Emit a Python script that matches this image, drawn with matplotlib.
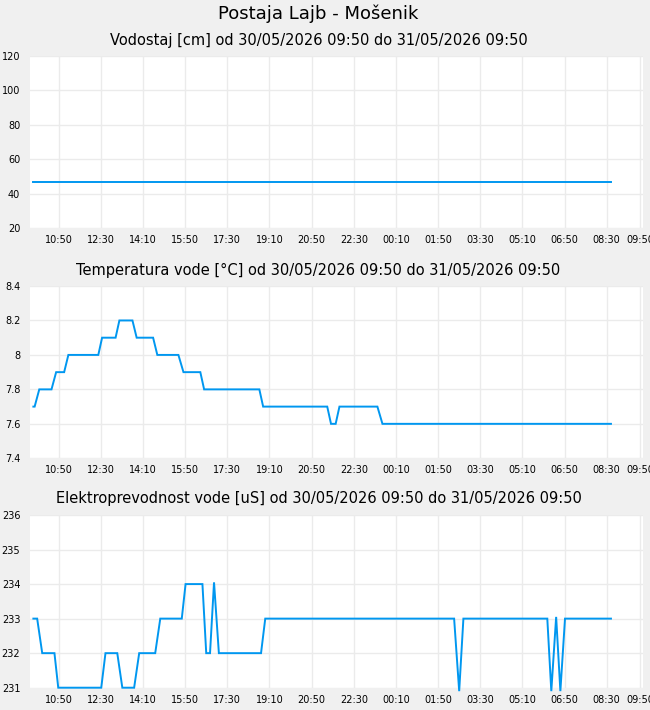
import matplotlib
matplotlib.use("Agg")
import matplotlib.pyplot as plt
import pandas as pd

# ---------------- data ----------------
start_time = "2026-05-30 09:50"

level_minutes = [0, 1370]
level_values = [47, 47]

temp_minutes = [0, 3, 14, 43, 54, 73, 83, 154, 163, 195, 204, 235, 245, 284, 294,
                344, 356, 396, 405, 536, 545, 697, 706, 717, 726, 816, 828, 1370]
temp_values = [7.7, 7.7, 7.8, 7.8, 7.9, 7.9, 8.0, 8.0, 8.1, 8.1, 8.2, 8.2, 8.1, 8.1, 8.0,
               8.0, 7.9, 7.9, 7.8, 7.8, 7.7, 7.7, 7.6, 7.6, 7.7, 7.7, 7.6, 7.6]

cond_minutes = [0, 9, 21, 50, 59, 161, 171, 199, 211, 239, 251, 289, 301, 352, 361,
                401, 410, 419, 428.5, 440, 540, 550, 998, 1010, 1020, 1219, 1228.5,
                1240, 1250, 1261, 1370]
cond_values = [233, 233, 232, 232, 231, 231, 232, 232, 231, 231, 232, 232, 233, 233, 234,
               234, 232, 232, 234.05, 232, 232, 233, 233, 230.9, 233, 233, 230.9,
               233.05, 230.9, 233, 233]

x_tick_labels = ["10:50", "12:30", "14:10", "15:50", "17:30", "19:10", "20:50", "22:30",
                 "00:10", "01:50", "03:30", "05:10", "06:50", "08:30", "09:50"]

level_yticks = [20, 40, 60, 80, 100, 120]
level_ylabels = ["20", "40", "60", "80", "100", "120"]
temp_yticks = [7.4, 7.6, 7.8, 8.0, 8.2, 8.4]
temp_ylabels = ["7.4", "7.6", "7.8", "8", "8.2", "8.4"]
cond_yticks = [231, 232, 233, 234, 235, 236]
cond_ylabels = ["231", "232", "233", "234", "235", "236"]

main_title = "Postaja Lajb - Mošenik"
titles = ["Vodostaj [cm] od 30/05/2026 09:50 do 31/05/2026 09:50",
          "Temperatura vode [°C] od 30/05/2026 09:50 do 31/05/2026 09:50",
          "Elektroprevodnost vode [uS] od 30/05/2026 09:50 do 31/05/2026 09:50"]

# ---------------- helpers ----------------
t0 = pd.Timestamp(start_time)


def to_times(mins):
    return [t0 + pd.Timedelta(minutes=m) for m in mins]


# tick positions from the labels, rolling over midnight
tick_times = []
prev = t0
for lab in x_tick_labels:
    h, m = map(int, lab.split(":"))
    t = prev.normalize() + pd.Timedelta(hours=h, minutes=m)
    if t <= prev:
        t += pd.Timedelta(days=1)
    tick_times.append(t)
    prev = t

BG = "#f0f0f0"
LINE = "#0097f0"
GRID = "#ebebeb"

fig = plt.figure(figsize=(6.5, 7.1), dpi=100, facecolor=BG)
plt.rcParams["font.family"] = ["DejaVu Sans"]

fig.text(0.49, 0.980, main_title, ha="center", va="center", fontsize=13)

W, H = 650, 710
panels = [(56, 228), (286, 458.3), (515, 687.7)]
title_y = [40, 270, 499]
left_px, right_px = 30, 643

series = [(level_minutes, level_values, level_yticks, level_ylabels),
          (temp_minutes, temp_values, temp_yticks, temp_ylabels),
          (cond_minutes, cond_values, cond_yticks, cond_ylabels)]

xlo = t0 - pd.Timedelta(minutes=8)
xhi = t0 + pd.Timedelta(minutes=1446)

for (top, bot), ty, (mins, vals, yt, yl), title in zip(panels, title_y, series, titles):
    ax = fig.add_axes([left_px / W, 1 - bot / H, (right_px - left_px) / W, (bot - top) / H])
    ax.set_facecolor("white")
    ax.plot(to_times(mins), vals, color=LINE, lw=1.4, clip_on=False, zorder=3,
            solid_joinstyle="miter")
    ax.set_xlim(xlo, xhi)
    ax.set_ylim(yt[0], yt[-1])
    ax.set_xticks(tick_times)
    ax.set_xticklabels(x_tick_labels)
    ax.set_yticks(yt)
    ax.set_yticklabels(yl)
    ax.tick_params(axis="both", length=0, labelsize=7, colors="black")
    ax.tick_params(axis="x", pad=5)
    ax.tick_params(axis="y", pad=7)
    ax.grid(True, color=GRID, lw=1)
    ax.set_axisbelow(True)
    for s in ax.spines.values():
        s.set_visible(False)
    fig.text(0.49, 1 - ty / H, title, ha="center", va="center", fontsize=10.5)

fig.savefig("out.png", dpi=100, facecolor=BG)
